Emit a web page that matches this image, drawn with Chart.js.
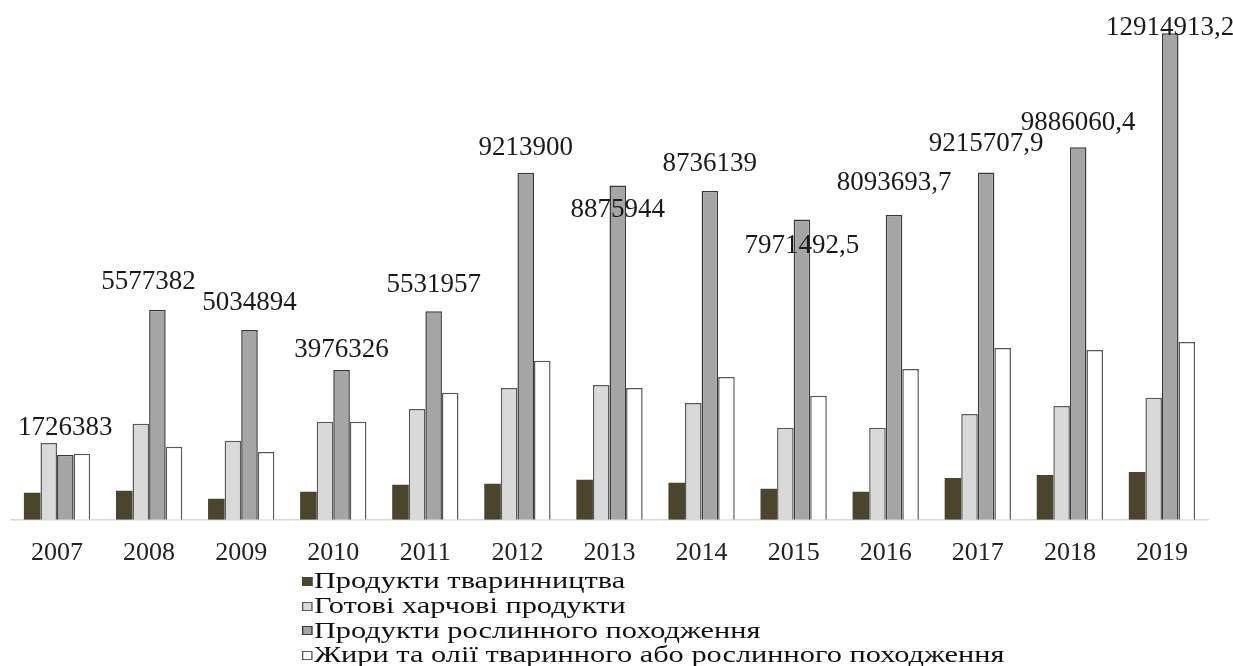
<!DOCTYPE html>
<html>
<head>
<meta charset="utf-8">
<script src="https://cdn.jsdelivr.net/npm/chart.js@4.4.1/dist/chart.umd.min.js"></script>
<style>
    html, body { margin: 0; padding: 0; background: #fff; }
    #wrap { position: relative; width: 1233px; height: 666px; overflow: hidden; }
    #legend {
        position: absolute; left: 302px; top: 569px;
        font-family: "Liberation Serif", "Times New Roman", serif;
        font-size: 23px; line-height: 24.8px; color: #111;
        transform-origin: left top; transform: scaleX(1.32);
    }
    #legend .item { display: flex; align-items: center; white-space: nowrap; }
    #legend .box { width: 8px; height: 9px; margin-right: 1px; box-sizing: border-box; }
</style>
</head>
<body>
<div id="wrap">
    <canvas id="exportChart" width="1233" height="666"></canvas>
    <div id="legend"></div>
</div>
<script>
// Years on the category axis
const years = ['2007', '2008', '2009', '2010', '2011', '2012', '2013', '2014', '2015', '2016', '2017', '2018', '2019'];

// Series names (legend order)
const seriesNames = [
    'Продукти тваринництва',
    'Готові харчові продукти',
    'Продукти рослинного походження',
    'Жири та олії тваринного або рослинного походження'
];

// Values per year
const animalProducts = [716000, 770000, 557000, 743000, 928000, 955000, 1060000, 981000, 822000, 743000, 1110000, 1190000, 1270000];
const preparedFood = [2040000, 2550000, 2100000, 2600000, 2940000, 3500000, 3580000, 3100000, 2440000, 2440000, 2810000, 3020000, 3240000];
const plantProducts = [1726383, 5577382, 5034894, 3976326, 5531957, 9213900, 8875944, 8736139, 7971492.5, 8093693.7, 9215707.9, 9886060.4, 12914913.2];
const fatsOils = [1750000, 1940000, 1800000, 2600000, 3370000, 4220000, 3500000, 3790000, 3290000, 4000000, 4560000, 4510000, 4720000];

// Nudges for the value labels on the plant-products bars (px)
const labelDx = [0, -9, 0, 0, 0, 0, 0, 0, 0, 0, 0, 0, 0];
const labelDy = [-27, -28, -27, -20, -26, -25, 25, -27, 26, -32, -29, -24, -5];

const serif = '"Liberation Serif", "Times New Roman", serif';

// Draws the numbers over the third series
const valueLabels = {
    id: 'valueLabels',
    afterDatasetsDraw(chart) {
        const ctx = chart.ctx;
        const meta = chart.getDatasetMeta(2);
        ctx.save();
        ctx.font = '27px ' + serif;
        ctx.fillStyle = '#1a1a1a';
        ctx.textAlign = 'center';
        ctx.textBaseline = 'middle';
        meta.data.forEach((bar, i) => {
            const txt = String(plantProducts[i]).replace('.', ',');
            ctx.fillText(txt, bar.x + labelDx[i], bar.y + labelDy[i]);
        });
        ctx.restore();
    }
};

const styles = [
    { bg: '#4a452c', border: '#4a452c' },
    { bg: '#d9d9d9', border: '#5a5a5a' },
    { bg: '#a5a5a5', border: '#3a3a3a' },
    { bg: '#ffffff', border: '#5a5a5a' }
];
const seriesData = [animalProducts, preparedFood, plantProducts, fatsOils];

const chart = new Chart(document.getElementById('exportChart'), {
    type: 'bar',
    data: {
        labels: years,
        datasets: seriesData.map((d, i) => ({
            label: seriesNames[i],
            data: d,
            backgroundColor: styles[i].bg,
            borderColor: styles[i].border,
            borderWidth: i === 0 ? 0 : 1.5,
            barPercentage: 1.0,
            categoryPercentage: 0.72
        }))
    },
    options: {
        responsive: false,
        animation: false,
        layout: { padding: { left: 11, right: 25, top: 30, bottom: 87 } },
        plugins: {
            legend: { display: false },
            tooltip: { enabled: false }
        },
        scales: {
            x: {
                grid: { display: false },
                border: { display: true, color: '#d9d9d9', width: 1.5 },
                ticks: { color: '#222', font: { family: serif, size: 26 }, padding: 10 }
            },
            y: {
                display: false,
                min: 0,
                max: 13000000
            }
        }
    },
    plugins: [valueLabels]
});

// Legend, one item per line
const legendEl = document.getElementById('legend');
seriesNames.forEach((name, i) => {
    const row = document.createElement('div');
    row.className = 'item';
    const box = document.createElement('span');
    box.className = 'box';
    box.style.background = styles[i].bg;
    box.style.border = '1px solid ' + styles[i].border;
    row.appendChild(box);
    row.appendChild(document.createTextNode(name));
    legendEl.appendChild(row);
});
</script>
</body>
</html>
